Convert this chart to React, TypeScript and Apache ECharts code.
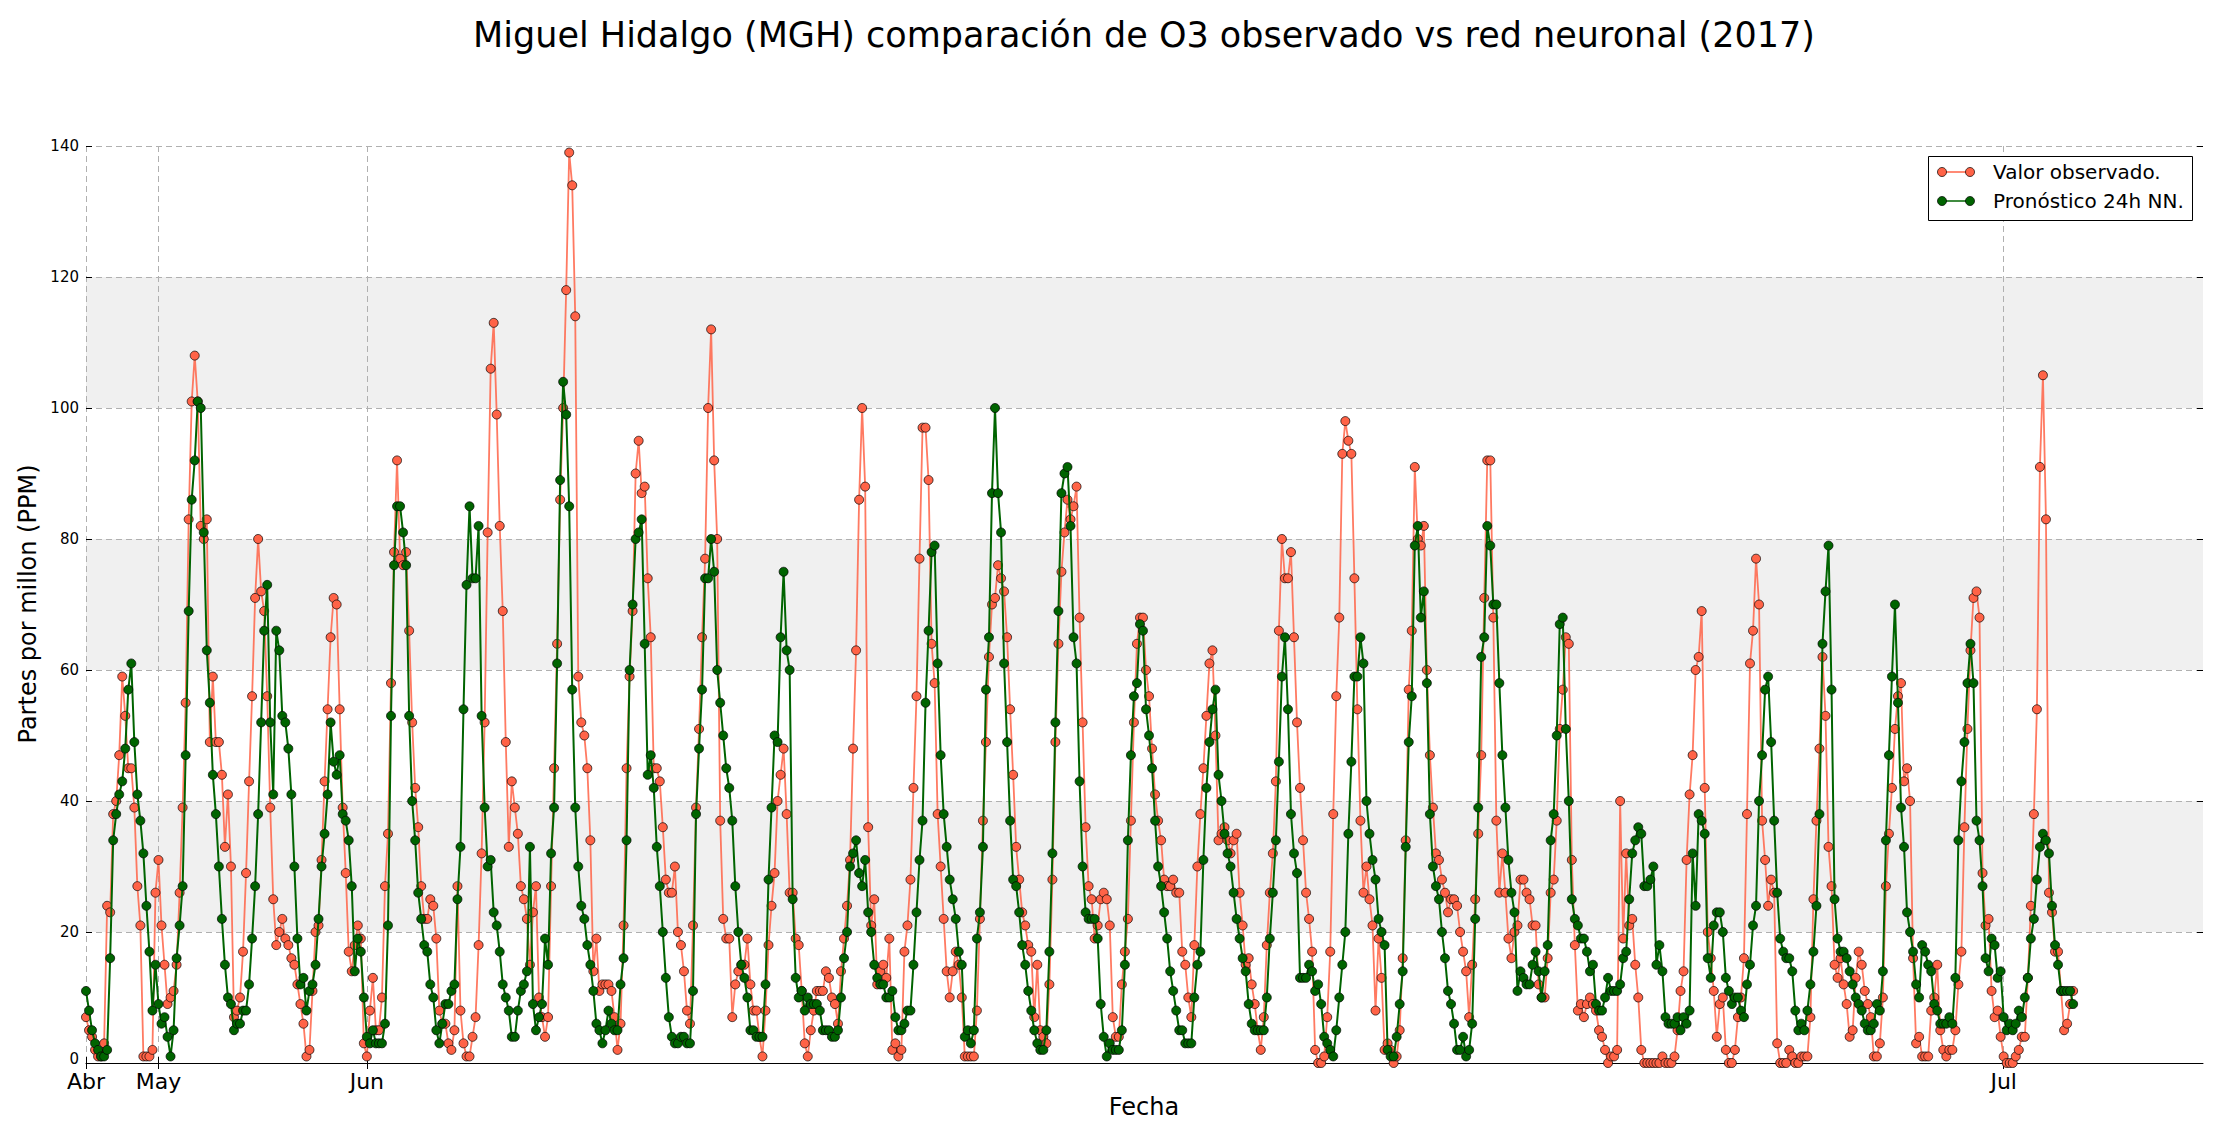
import React, { useEffect, useRef } from 'react'
import * as echarts from 'echarts'

// valores (una muestra por hora, por indice)
const observado: number[] = [
  7, 5, 4, 2, 1, 1, 3, 24, 23, 38, 40, 47, 59, 53, 45, 45, 39, 27, 21, 1, 1, 1, 2, 26, 31, 21, 15, 9, 10, 11, 15, 26, 39, 55, 83, 101, 108, 101, 82, 80, 83, 49, 59, 49, 49, 44, 33, 41, 30, 7, 8, 10, 17, 29, 43, 56, 71, 80, 72, 69, 56, 39, 25, 18, 20, 22, 19, 18, 16, 15, 12,
  9, 6, 1, 2, 11, 20, 21, 31, 43, 54, 65, 71, 70, 54, 39, 29, 17, 14, 18, 21, 19, 3, 1, 8, 13, 5, 5, 10, 27, 35, 58, 78, 92, 77, 76, 78, 66, 52, 42, 36, 27, 22, 22, 25, 24, 19, 8, 6, 6, 3, 2, 5, 27, 8, 3, 1, 1, 4, 7, 18, 32, 52, 81, 106, 113, 99, 82, 69,
  49, 33, 43, 39, 35, 27, 25, 22, 15, 23, 27, 10, 7, 4, 7, 27, 45, 64, 86, 100, 118, 139, 134, 114, 59, 52, 50, 45, 34, 14, 19, 11, 12, 12, 12, 11, 7, 2, 6, 21, 45, 59, 69, 90, 95, 87, 88, 74, 65, 45, 45, 43, 36, 28, 26, 26, 30, 20, 18, 14, 8, 6, 21, 39, 51, 65, 77,
  100, 112, 92, 80, 37, 22, 19, 19, 7, 12, 14, 15, 15, 19, 12, 8, 8, 4, 1, 8, 18, 24, 29, 40, 44, 48, 38, 26, 26, 19, 18, 11, 3, 1, 5, 8, 11, 11, 11, 14, 13, 10, 9, 6, 14, 19, 24, 31, 48, 63, 86, 100, 88, 36, 21, 25, 12, 14, 15, 13, 19, 2, 3, 1, 2, 17, 21,
  28, 42, 56, 77, 97, 97, 89, 64, 58, 38, 30, 22, 14, 10, 14, 17, 15, 10, 1, 1, 1, 1, 8, 22, 37, 49, 62, 70, 71, 76, 74, 72, 65, 54, 44, 33, 28, 23, 21, 18, 17, 7, 15, 5, 4, 3, 12, 28, 49, 64, 75, 81, 86, 83, 85, 88, 68, 52, 36, 27, 25, 19, 21, 25, 26, 25,
  21, 7, 4, 4, 12, 17, 22, 37, 52, 64, 68, 68, 60, 56, 48, 41, 37, 34, 28, 27, 27, 28, 26, 26, 17, 15, 10, 7, 18, 30, 38, 45, 53, 61, 63, 50, 34, 35, 36, 34, 32, 34, 35, 26, 21, 15, 16, 12, 9, 5, 2, 7, 18, 26, 32, 43, 66, 80, 74, 74, 78, 65, 52, 42, 34, 26, 22,
  17, 2, 0, 0, 1, 7, 17, 38, 56, 68, 93, 98, 95, 93, 74, 54, 37, 26, 30, 25, 21, 8, 19, 13, 2, 3, 2, 0, 1, 5, 16, 34, 57, 66, 91, 80, 79, 82, 60, 47, 39, 32, 31, 28, 26, 23, 25, 25, 24, 20, 17, 14, 7, 15, 25, 35, 47, 71, 92, 92, 68, 37, 26, 32, 26, 19,
  16, 20, 21, 28, 28, 26, 25, 21, 21, 12, 10, 10, 16, 26, 28, 37, 51, 57, 65, 64, 31, 18, 8, 9, 7, 9, 10, 9, 8, 5, 4, 2, 0, 1, 1, 2, 40, 19, 32, 21, 22, 15, 10, 2, 0, 0, 0, 0, 0, 0, 1, 0, 0, 0, 1, 5, 11, 14, 31, 41, 47, 60, 62, 69, 42, 20,
  16, 11, 4, 9, 10, 2, 0, 0, 2, 7, 10, 16, 38, 61, 66, 77, 70, 37, 31, 24, 28, 26, 3, 0, 0, 0, 2, 1, 0, 0, 1, 1, 1, 7, 25, 37, 48, 62, 53, 33, 27, 15, 13, 16, 12, 9, 4, 5, 13, 17, 15, 11, 9, 7, 1, 1, 3, 10, 27, 35, 42, 51, 56, 58, 43, 45,
  40, 16, 3, 4, 1, 1, 1, 8, 10, 15, 5, 2, 1, 2, 2, 5, 12, 17, 36, 51, 63, 71, 72, 68, 29, 21, 22, 11, 7, 8, 4, 1, 0, 0, 0, 1, 2, 4, 4, 13, 24, 38, 54, 91, 105, 83, 26, 23, 17, 17, 11, 5, 6, 9, 11,
]

const pronostico: number[] = [
  11, 8, 5, 3, 2, 1, 1, 2, 16, 34, 38, 41, 43, 48, 57, 61, 49, 41, 37, 32, 24, 17, 8, 15, 9, 6, 7, 4, 1, 5, 16, 21, 27, 47, 69, 86, 92, 101, 100, 81, 63, 55, 44, 38, 30, 22, 15, 10, 9, 5, 6, 6, 8, 8, 12, 19, 27, 38, 52, 66, 73, 52, 41, 66, 63, 53, 52, 48, 41, 30, 19,
  12, 13, 8, 11, 12, 15, 22, 30, 35, 41, 52, 46, 44, 47, 38, 37, 34, 27, 14, 19, 17, 10, 4, 3, 5, 3, 3, 3, 6, 21, 53, 76, 85, 85, 81, 76, 53, 40, 34, 26, 22, 18, 17, 12, 10, 5, 3, 6, 9, 9, 11, 12, 25, 33, 54, 73, 85, 74, 74, 82, 53, 39, 30, 31, 23, 21, 17, 12,
  10, 8, 4, 4, 8, 11, 12, 14, 33, 9, 5, 7, 9, 19, 15, 32, 39, 61, 89, 104, 99, 85, 57, 39, 30, 24, 22, 18, 15, 11, 6, 5, 3, 5, 8, 6, 5, 5, 12, 16, 34, 60, 70, 80, 81, 83, 64, 44, 47, 42, 33, 27, 20, 13, 7, 4, 3, 3, 4, 4, 3, 3, 11, 38, 48, 57, 74,
  74, 80, 75, 60, 55, 50, 45, 42, 37, 27, 20, 15, 13, 10, 5, 5, 4, 4, 4, 12, 28, 39, 50, 49, 65, 75, 63, 60, 25, 13, 10, 11, 8, 10, 9, 9, 9, 8, 5, 5, 5, 4, 4, 5, 10, 16, 20, 30, 32, 34, 29, 27, 31, 23, 20, 15, 13, 12, 12, 10, 10, 11, 7, 5, 5, 6, 8,
  8, 15, 23, 31, 37, 55, 66, 78, 79, 61, 47, 38, 33, 28, 25, 22, 17, 15, 4, 5, 3, 5, 19, 23, 33, 57, 65, 87, 100, 87, 81, 61, 49, 37, 28, 27, 23, 18, 15, 11, 8, 5, 3, 2, 2, 5, 17, 32, 52, 69, 87, 90, 91, 82, 65, 61, 43, 30, 23, 22, 22, 22, 19, 9, 4, 1,
  3, 2, 2, 2, 5, 15, 34, 47, 56, 58, 67, 66, 54, 50, 45, 37, 30, 27, 23, 19, 14, 11, 8, 5, 5, 3, 3, 3, 10, 15, 17, 31, 42, 49, 54, 57, 44, 40, 35, 32, 30, 26, 22, 19, 16, 14, 9, 6, 5, 5, 5, 5, 10, 19, 26, 34, 46, 59, 65, 54, 38, 32, 29, 13, 13, 13, 15,
  14, 11, 12, 9, 4, 3, 2, 1, 5, 10, 15, 20, 35, 46, 59, 59, 65, 61, 40, 35, 31, 28, 22, 20, 18, 2, 1, 1, 4, 9, 14, 33, 49, 56, 79, 82, 68, 72, 58, 38, 30, 27, 25, 20, 16, 11, 9, 6, 2, 2, 4, 1, 2, 6, 22, 39, 62, 65, 82, 79, 70, 70, 58, 47, 39, 31,
  26, 23, 11, 14, 13, 12, 12, 15, 17, 14, 10, 14, 18, 34, 38, 50, 67, 68, 51, 40, 25, 22, 21, 19, 19, 17, 14, 15, 9, 8, 8, 10, 13, 11, 11, 11, 12, 16, 17, 25, 32, 34, 36, 35, 27, 27, 28, 30, 15, 18, 14, 7, 6, 6, 6, 7, 5, 7, 6, 8, 32, 24, 38, 37, 35, 16,
  13, 21, 23, 23, 20, 13, 11, 9, 10, 10, 8, 7, 12, 15, 21, 24, 40, 47, 57, 59, 49, 37, 26, 19, 17, 16, 16, 14, 8, 5, 6, 5, 8, 12, 17, 24, 38, 64, 72, 79, 57, 25, 19, 17, 17, 16, 14, 12, 10, 9, 8, 6, 5, 5, 6, 9, 8, 14, 34, 47, 59, 70, 55, 39, 33, 23,
  20, 17, 12, 10, 18, 17, 15, 14, 9, 8, 6, 6, 6, 7, 6, 13, 34, 43, 49, 58, 64, 58, 37, 34, 27, 16, 14, 19, 18, 13, 14, 7, 5, 6, 5, 6, 8, 7, 10, 13, 19, 22, 28, 33, 35, 34, 32, 24, 18, 15, 11, 11, 11, 11, 9,
]

const monthLabels = ['Abr', 'May', 'Jun', 'Jul']
const monthIndex = [0, 24, 93, 635]
const axisLength = 702

const FONT = 'DejaVu Sans'
const RED = '#ff6347'
const GREEN = '#006400'
const GRID = '#b0b0b0'

const App: React.FC = () => {
  const chartRef = useRef<HTMLDivElement>(null)

  useEffect(() => {
    if (!chartRef.current) return
    const chart = echarts.init(chartRef.current, undefined, { renderer: 'svg' })

    const categories = Array.from({ length: axisLength }, (_, i) => {
      const k = monthIndex.indexOf(i)
      return k >= 0 ? monthLabels[k] : String(i)
    })
    const isMonth = (i: number) => monthIndex.includes(i)

    const legendRows = [
      { text: 'Valor observado.', color: RED, y: 172 },
      { text: 'Pronóstico 24h NN.', color: GREEN, y: 201 },
    ]
    const legendGraphic: any[] = [
      {
        type: 'rect',
        z: 100,
        shape: { x: 1928.5, y: 156.5, width: 264, height: 64 },
        style: { fill: '#fff', stroke: '#000', lineWidth: 1 },
      },
    ]
    legendRows.forEach((r) => {
      legendGraphic.push(
        {
          type: 'line',
          z: 101,
          shape: { x1: 1942, y1: r.y, x2: 1970, y2: r.y },
          style: { stroke: r.color, lineWidth: 1.5 },
        },
        {
          type: 'circle',
          z: 102,
          shape: { cx: 1942, cy: r.y, r: 4.5 },
          style: { fill: r.color, stroke: '#000', lineWidth: 0.7 },
        },
        {
          type: 'circle',
          z: 102,
          shape: { cx: 1970, cy: r.y, r: 4.5 },
          style: { fill: r.color, stroke: '#000', lineWidth: 0.7 },
        },
        {
          type: 'text',
          z: 102,
          x: 1993,
          y: r.y,
          style: {
            text: r.text,
            fontSize: 20,
            fontFamily: FONT,
            fill: '#000',
            align: 'left',
            verticalAlign: 'middle',
          },
        }
      )
    })

    const option = {
      animation: false,
      backgroundColor: '#fff',
      textStyle: { fontFamily: FONT },
      grid: { left: 86, right: 17, top: 146, bottom: 77, containLabel: false },
      xAxis: [
        {
          type: 'category',
          data: categories,
          boundaryGap: false,
          axisLine: { show: true, lineStyle: { color: '#000', width: 1 } },
          axisTick: {
            show: true,
            inside: true,
            length: 6,
            interval: (i: number) => isMonth(i),
            lineStyle: { color: '#000' },
          },
          axisLabel: {
            interval: (i: number) => isMonth(i),
            fontSize: 22,
            fontFamily: FONT,
            color: '#000',
            margin: 7,
          },
          splitLine: {
            show: true,
            interval: (i: number) => isMonth(i),
            lineStyle: { color: GRID, width: 1, type: [6, 4] },
          },
        },
        {
          type: 'category',
          position: 'top',
          data: categories,
          boundaryGap: false,
          axisLine: { show: false },
          axisTick: {
            show: true,
            inside: true,
            length: 6,
            interval: (i: number) => isMonth(i),
            lineStyle: { color: '#000' },
          },
          axisLabel: { show: false },
          splitLine: { show: false },
        },
      ],
      yAxis: [
        {
          type: 'value',
          min: 0,
          max: 140,
          interval: 20,
          axisLine: { show: false },
          axisTick: { show: true, inside: true, length: 6, lineStyle: { color: '#000' } },
          // the "0" is drawn below as a graphic, a little higher, so it does not touch "Abr"
          axisLabel: { fontSize: 15, fontFamily: FONT, color: '#000', margin: 7, showMinLabel: false },
          splitLine: { show: true, lineStyle: { color: GRID, width: 1, type: [6, 4] } },
          splitArea: { show: true, areaStyle: { color: ['#ffffff', '#f0f0f0'] } },
        },
        {
          type: 'value',
          position: 'right',
          min: 0,
          max: 140,
          interval: 20,
          axisLine: { show: false },
          axisTick: { show: true, inside: true, length: 6, lineStyle: { color: '#000' } },
          axisLabel: { show: false },
          splitLine: { show: false },
          splitArea: { show: false },
        },
      ],
      series: [
        {
          name: 'Valor observado.',
          type: 'line',
          data: observado,
          symbol: 'circle',
          symbolSize: 9,
          showSymbol: true,
          showAllSymbol: true,
          lineStyle: { color: RED, width: 1.8, opacity: 0.85 },
          itemStyle: { color: RED, borderColor: '#000', borderWidth: 0.7 },
          emphasis: { disabled: true },
          z: 2,
        },
        {
          name: 'Pronóstico 24h NN.',
          type: 'line',
          data: pronostico,
          symbol: 'circle',
          symbolSize: 9,
          showSymbol: true,
          showAllSymbol: true,
          lineStyle: { color: GREEN, width: 2 },
          itemStyle: { color: GREEN, borderColor: '#000', borderWidth: 0.7 },
          emphasis: { disabled: true },
          z: 3,
        },
      ],
      graphic: [
        {
          type: 'text',
          x: 1144,
          y: 35,
          style: {
            text: 'Miguel Hidalgo (MGH) comparación de O3 observado vs red neuronal (2017)',
            fontSize: 35,
            fontFamily: FONT,
            fill: '#000',
            align: 'center',
            verticalAlign: 'middle',
          },
        },
        {
          type: 'text',
          x: 79,
          y: 1059,
          style: {
            text: '0',
            fontSize: 15,
            fontFamily: FONT,
            fill: '#000',
            align: 'right',
            verticalAlign: 'middle',
          },
        },
        {
          type: 'text',
          x: 28,
          y: 604,
          rotation: Math.PI / 2,
          style: {
            text: 'Partes por millon (PPM)',
            fontSize: 24,
            fontFamily: FONT,
            fill: '#000',
            align: 'center',
            verticalAlign: 'middle',
          },
        },
        {
          type: 'text',
          x: 1144,
          y: 1107,
          style: {
            text: 'Fecha',
            fontSize: 24,
            fontFamily: FONT,
            fill: '#000',
            align: 'center',
            verticalAlign: 'middle',
          },
        },
        ...legendGraphic,
      ],
    }

    chart.setOption(option)

    return () => {
      chart.dispose()
    }
  }, [])

  return (
    <div
      ref={chartRef}
      style={{ position: 'absolute', left: 0, top: 0, width: 2220, height: 1140, background: '#fff' }}
    />
  )
}

export default App
